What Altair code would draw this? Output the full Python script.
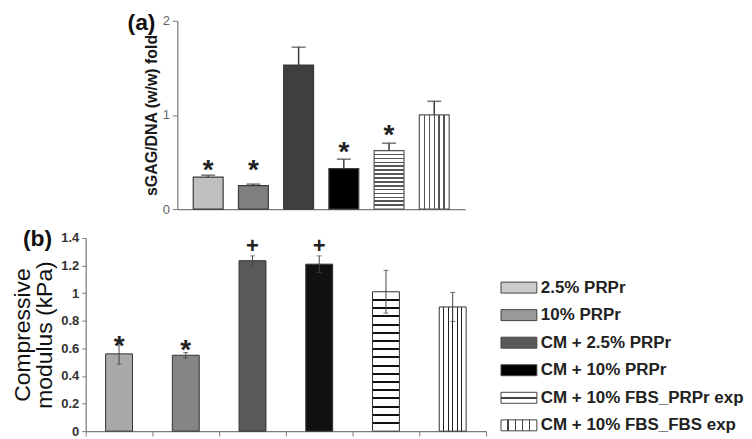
import altair as alt
import pandas as pd

FONT = "Liberation Sans"

categories = ["2.5% PRPr", "10% PRPr", "CM + 2.5% PRPr", "CM + 10% PRPr",
              "CM + 10% FBS_PRPr exp", "CM + 10% FBS_FBS exp"]

# panel (a): sGAG/DNA fold
a_values = [0.34, 0.25, 1.53, 0.43, 0.62, 1.00]
a_errors = [0.02, 0.015, 0.19, 0.10, 0.08, 0.145]
a_marks = ["*", "*", "", "*", "*", ""]
a_mark_y = [0.49, 0.49, None, 0.68, 0.865, None]
a_colors = ["#c0c0c0", "#7f7f7f", "#3f3f3f", "#000000", "#ffffff", "#ffffff"]

# panel (b): compressive modulus (kPa)
b_values = [0.56, 0.55, 1.235, 1.21, 1.01, 0.90]
b_errors = [0.075, 0.02, 0.035, 0.06, 0.155, 0.105]
b_marks = ["*", "*", "+", "+", "", ""]
b_mark_y = [0.668, 0.639, 1.345, 1.345, None, None]
b_colors = ["#a9a9a9", "#858585", "#595959", "#111111", "#ffffff", "#ffffff"]

legend_colors = ["#cccccc", "#999999", "#595959", "#000000", "#ffffff", "#ffffff"]
panel_labels = ["(a)", "(b)"]


def stripes(n, t, vertical, dark, light="#ffffff"):
    stops = [{"offset": 0, "color": light}]
    for k in range(1, n):
        c = k / n
        stops += [{"offset": c - t / 2, "color": light}, {"offset": c - t / 2, "color": dark},
                  {"offset": c + t / 2, "color": dark}, {"offset": c + t / 2, "color": light}]
    stops.append({"offset": 1, "color": light})
    if vertical:
        return {"gradient": "linear", "x1": 0, "y1": 0, "x2": 1, "y2": 0, "stops": stops}
    return {"gradient": "linear", "x1": 0, "y1": 0, "x2": 0, "y2": 1, "stops": stops}


def frame(values, errors, marks, mark_y, colors):
    return pd.DataFrame({
        "cat": categories, "value": values, "err": errors,
        "lo": [v - e for v, e in zip(values, errors)],
        "hi": [v + e for v, e in zip(values, errors)],
        "mark": marks, "mark_y": mark_y, "fill": colors,
    })


def only(cats):
    return alt.FieldOneOfPredicate(field="cat", oneOf=cats)


def panel_label(text, dx, dy):
    return alt.Chart(pd.DataFrame({"t": [text]})).mark_text(
        font=FONT, fontSize=23, fontWeight="bold", color="#111111", align="left", baseline="alphabetic"
    ).encode(text="t:N", x=alt.value(dx), y=alt.value(dy))


# ---------------- panel (a) ----------------
df_a = frame(a_values, a_errors, a_marks, a_mark_y, a_colors)
xa = alt.X("cat:N", sort=categories,
           scale=alt.Scale(domain=categories, paddingInner=0, paddingOuter=0.183),
           axis=alt.Axis(title=None, labels=False, ticks=False, domainColor="#7a7a7a", domainWidth=1.2))
axis_a = alt.Axis(values=[0, 1, 2], format="~g", title="sGAG/DNA (w/w) fold", titleFont=FONT,
                  titleFontSize=16, titleFontWeight="bold", titleColor="#1a1a1a", titlePadding=3,
                  labelFont=FONT, labelFontSize=13, labelColor="#666666", labelPadding=3,
                  tickColor="#7a7a7a", tickSize=5, domainColor="#7a7a7a", domainWidth=1.2, grid=False)
sc_a = alt.Scale(domain=[0, 2], nice=False)


def ya(field):
    return alt.Y(field, type="quantitative", scale=sc_a, axis=axis_a)


base_a = alt.Chart(df_a)
a_solid = base_a.transform_filter(only(categories[:4])).mark_bar(
    size=30, stroke="#3a3a3a", strokeWidth=1.2).encode(x=xa, y=ya("value"), fill=alt.Fill("fill:N", scale=None))
a_h = base_a.transform_filter(only([categories[4]])).mark_bar(
    size=30, stroke="#555555", strokeWidth=1.2, fill=stripes(15, 0.028, False, "#555555")).encode(x=xa, y=ya("value"))
a_v = base_a.transform_filter(only([categories[5]])).mark_bar(
    size=30, stroke="#555555", strokeWidth=1.2, fill=stripes(6, 0.05, True, "#555555")).encode(x=xa, y=ya("value"))
a_err = base_a.mark_rule(color="#3a3a3a", strokeWidth=1.5).encode(x=xa, y=ya("value"), y2="hi:Q")
a_cap = base_a.mark_tick(size=14, thickness=1.5, color="#3a3a3a").encode(x=xa, y=ya("hi"))
a_star = base_a.transform_filter(alt.datum.mark == "*").mark_text(
    text="*", font=FONT, fontSize=28, fontWeight="bold", color="#222222", baseline="alphabetic", dy=16
).encode(x=xa, y=ya("mark_y"))

panel_a = alt.layer(a_solid, a_h, a_v, a_err, a_cap, a_star,
                    panel_label(panel_labels[0], -50, 9)).properties(width=289, height=189)

# ---------------- panel (b) ----------------
df_b = frame(b_values, b_errors, b_marks, b_mark_y, b_colors)
xb = alt.X("cat:N", sort=categories,
           scale=alt.Scale(domain=categories, paddingInner=0, paddingOuter=0),
           axis=alt.Axis(title=None, labels=False, ticks=True, tickBand="extent", tickSize=5,
                         tickColor="#7a7a7a", domainColor="#7a7a7a", domainWidth=1.2))
axis_b = alt.Axis(values=[0, 0.2, 0.4, 0.6, 0.8, 1, 1.2, 1.4], format="~g",
                  title=["Compressive", "modulus (kPa)"], titleFont=FONT, titleFontSize=23,
                  titleFontWeight="normal", titleColor="#111111", titleLineHeight=22, titlePadding=4,
                  labelFont=FONT, labelFontSize=13, labelFontWeight="bold", labelColor="#333333",
                  labelPadding=3, tickColor="#7a7a7a", tickSize=4, domainColor="#7a7a7a",
                  domainWidth=1.2, grid=False)
sc_b = alt.Scale(domain=[0, 1.4], nice=False)


def yb(field):
    return alt.Y(field, type="quantitative", scale=sc_b, axis=axis_b)


base_b = alt.Chart(df_b)
b_solid = base_b.transform_filter(only(categories[:4])).mark_bar(
    size=27, stroke="#333333", strokeWidth=1).encode(x=xb, y=yb("value"), fill=alt.Fill("fill:N", scale=None))
b_h = base_b.transform_filter(only([categories[4]])).mark_bar(
    size=27, stroke="#333333", strokeWidth=1, fill=stripes(17, 0.014, False, "#111111")).encode(x=xb, y=yb("value"))
b_v = base_b.transform_filter(only([categories[5]])).mark_bar(
    size=27, stroke="#333333", strokeWidth=1, fill=stripes(6, 0.045, True, "#222222")).encode(x=xb, y=yb("value"))
b_err = base_b.mark_rule(color="#444444", strokeWidth=1).encode(x=xb, y=yb("lo"), y2="hi:Q")
b_cap_hi = base_b.mark_tick(size=5, thickness=1, color="#444444").encode(x=xb, y=yb("hi"))
b_cap_lo = base_b.mark_tick(size=5, thickness=1, color="#444444").encode(x=xb, y=yb("lo"))
b_star = base_b.transform_filter(alt.datum.mark == "*").mark_text(
    text="*", font=FONT, fontSize=28, fontWeight="bold", color="#222222", baseline="alphabetic", dy=16
).encode(x=xb, y=yb("mark_y"))
b_plus = base_b.transform_filter(alt.datum.mark == "+").mark_text(
    text="+", font=FONT, fontSize=22, fontWeight="bold", color="#222222", baseline="alphabetic", dy=8
).encode(x=xb, y=yb("mark_y"))

panel_b = alt.layer(b_solid, b_h, b_v, b_err, b_cap_hi, b_cap_lo, b_star, b_plus,
                    panel_label(panel_labels[1], -63, 8)).properties(width=402, height=194)

# ---------------- legend ----------------
df_l = pd.DataFrame({"cat": categories, "fill": legend_colors})
yl = alt.Y("cat:N", sort=categories,
           scale=alt.Scale(domain=categories, range=[36, 202], paddingInner=0, paddingOuter=0), axis=None)
base_l = alt.Chart(df_l)
l_solid = base_l.transform_filter(only(categories[:4])).mark_bar(
    size=11, stroke="#444444", strokeWidth=1).encode(
    y=yl, x=alt.value(0), x2=alt.value(36), fill=alt.Fill("fill:N", scale=None))
l_h = base_l.transform_filter(only([categories[4]])).mark_bar(
    size=11, stroke="#444444", strokeWidth=1, fill=stripes(2, 0.14, False, "#444444")).encode(
    y=yl, x=alt.value(0), x2=alt.value(36))
l_v = base_l.transform_filter(only([categories[5]])).mark_bar(
    size=11, stroke="#444444", strokeWidth=1, fill=stripes(5, 0.04, True, "#444444")).encode(
    y=yl, x=alt.value(0), x2=alt.value(36))
l_text = base_l.mark_text(align="left", baseline="middle", font=FONT, fontSize=17, fontWeight="bold",
                          color="#222222").encode(y=yl, x=alt.value(40), text="cat:N")
legend = alt.layer(l_solid, l_h, l_v, l_text).properties(width=150, height=194)

# ---------------- layout ----------------
spacer = alt.Chart(pd.DataFrame({"v": [0]})).mark_point(opacity=0).encode(
    x=alt.X("v:Q", axis=None), y=alt.Y("v:Q", axis=None)).properties(width=92, height=20)

top = alt.hconcat(spacer, panel_a, spacing=0, bounds="flush")
bottom = alt.hconcat(panel_b, legend, spacing=15, bounds="flush")

chart = alt.vconcat(top, bottom, spacing=12).properties(
    padding={"left": 3, "top": 3, "right": 0, "bottom": 0}, background="white"
).configure_view(stroke=None)

chart.save("out.html", embed_options={"renderer": "svg", "actions": False})
